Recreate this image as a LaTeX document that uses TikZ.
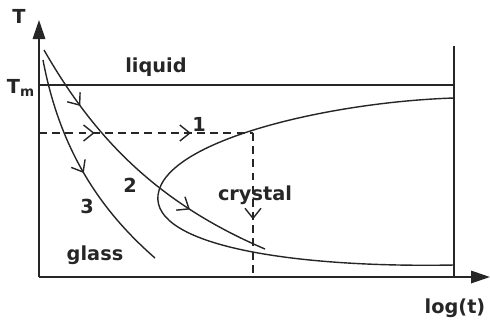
\documentclass[tikz,border=0pt]{standalone}
\usepackage{fontspec}
\setmainfont{DejaVu Sans}
\usetikzlibrary{arrows.meta, decorations.markings}
\tikzstyle{curve} = [line width=0.8pt, draw=black!85]
\tikzstyle{axis} = [line width=1pt, draw=black!85, -{Triangle[length=0.38cm,width=0.25cm]}]
\tikzstyle{guide} = [line width=0.8pt, draw=black!85, dash pattern=on 4.5pt off 3pt]
\tikzstyle{lbl} = [font=\bfseries\fontsize{11}{13}\selectfont, inner sep=0pt, text=black!85]
\tikzset{flow/.style={postaction={decorate, decoration={markings,
    mark=at position #1 with {\arrow[line width=0.8pt]{Straight Barb[length=0.2cm,width=0.32cm]}}}}}}

\begin{document}
\begin{tikzpicture}[x=0.02cm, y=-0.02cm]
    \useasboundingbox (0,0) rectangle (490,322);

    % Axes and frame
    \coordinate (o) at (39,277);
    \coordinate (ytop) at (39,20);
    \coordinate (xend) at (490,277);
    \coordinate (rtop) at (454,46);
    \coordinate (rbot) at (454,277);
    \draw [axis] (o) -- (ytop);
    \draw [axis] (o) -- (xend);
    \draw [curve] (rbot) -- (rtop);

    % Melting line
    \coordinate (tmleft) at (39,85);
    \coordinate (tmright) at (454,85);
    \draw [curve] (tmleft) -- (tmright);

    % Isothermal hold and quench (dashed)
    \coordinate (hold) at (39,133);
    \coordinate (corner) at (253,133);
    \coordinate (drop) at (253,277);
    \draw [guide, flow=0.26, flow=0.71] (hold) -- (corner);
    \draw [guide, flow=0.6] (corner) -- (drop);

    % Crystallisation nose
    \coordinate (nosetop) at (454,98);
    \coordinate (nose) at (158,195);
    \coordinate (nosebot) at (454,265);
    \draw [curve] (nosetop) .. controls (330,102) and (165,140) .. (nose)
        .. controls (152,245) and (290,268) .. (nosebot);

    % Cooling paths
    \coordinate (s2) at (44,50);
    \coordinate (e2) at (265,249);
    \draw [curve, flow=0.22, flow=0.72] (s2) .. controls (90,130) and (150,200) .. (e2);
    \coordinate (s3) at (43,60);
    \coordinate (e3) at (155,258);
    \draw [curve, flow=0.52] (s3) .. controls (60,150) and (100,210) .. (e3);

    % Labels
    \node (tlbl) [lbl] at (19,16) {T};
    \node (tmlbl) [lbl] at (21,88) {T\textsubscript{m}};
    \node (logt) [lbl] at (455,308) {log(t)};
    \node (liquid) [lbl] at (156,67) {liquid};
    \node (crystal) [lbl] at (255,195) {crystal};
    \node (glass) [lbl] at (95,255) {glass};
    \node (n1) [lbl] at (199,124) {1};
    \node (n2) [lbl] at (130,185) {2};
    \node (n3) [lbl] at (87,206) {3};
\end{tikzpicture}
\end{document}
